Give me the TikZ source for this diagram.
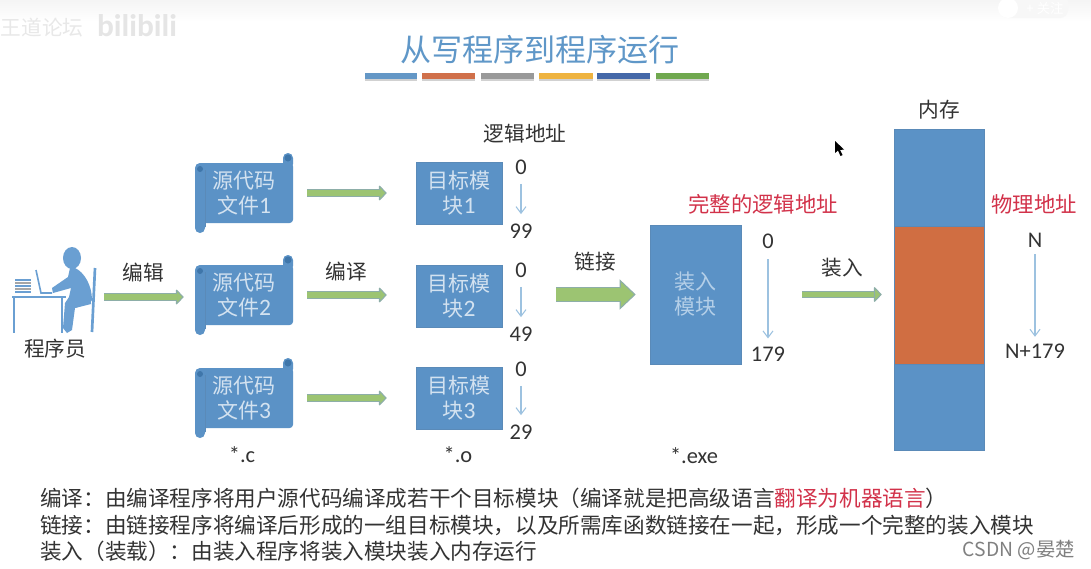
\documentclass[tikz,border=0pt]{standalone}
\usepackage{fontspec}
\setmainfont{Noto Sans CJK SC}
\newfontfamily\lat[Scale=1.12]{Carlito}
\usetikzlibrary{arrows.meta}
\definecolor{boxblue}{HTML}{5B92C6}
\definecolor{boxedge}{HTML}{5A8AB8}
\definecolor{rollblue}{HTML}{3F76AA}
\definecolor{personblue}{HTML}{6A9FD2}
\definecolor{paletext}{HTML}{D3E2F0}
\definecolor{dimtext}{HTML}{B4CFE8}
\definecolor{memorange}{HTML}{D06E42}
\definecolor{inkgrey}{HTML}{333333}
\definecolor{redlabel}{HTML}{D2324A}
\definecolor{arrowfill}{HTML}{9CC472}
\definecolor{arrowedge}{HTML}{8DAEA8}
\definecolor{thinarrow}{HTML}{9DC2E0}
\definecolor{titleblue}{HTML}{5F97C8}
\definecolor{barb}{HTML}{6497C6}
\definecolor{barc}{HTML}{D0704A}
\definecolor{bard}{HTML}{999999}
\definecolor{bare}{HTML}{EEB340}
\definecolor{barf}{HTML}{4468A8}
\definecolor{barg}{HTML}{70A84F}
\newcommand{\fs}[2]{\fontsize{#1}{#2}\selectfont}
\tikzset{
  x=0.75pt,y=-0.75pt,
  lab/.style={inner sep=0pt,text=inkgrey,font=\fs{15.5}{18}},
  redlab/.style={inner sep=0pt,text=redlabel,font=\fs{16}{18}},
  num/.style={inner sep=0pt,text=inkgrey,font=\lat\fs{15}{18}},
  boxtext/.style={inner sep=0pt,align=center,text=paletext,font=\fs{15.75}{18.75}},
  solidbox/.style={boxtext,fill=boxblue,draw=boxedge,line width=0.4pt},
  scrollnode/.style={boxtext,minimum width=73.5pt,minimum height=60pt},
  blockarrow/.style={draw=arrowedge,line width=5.6pt,
    -{Triangle[length=6pt,width=12pt,line width=0.8pt,fill=arrowfill,round]},
    postaction={draw=arrowfill,line width=3.8pt,-,shorten >=#1}},
  bigarrow/.style={draw=arrowedge,line width=11.5pt,
    -{Triangle[length=12pt,width=22.5pt,line width=0.8pt,fill=arrowfill]},
    postaction={draw=arrowfill,line width=10pt,-,shorten >=#1}},
  downarrow/.style={draw=thinarrow,line width=0.8pt,-{Straight Barb[length=5pt,width=7.5pt]}},
  barshadow/.style={fill=black!18},
  bottomline/.style={anchor=west,inner sep=0pt,text=inkgrey,font=\fs{16.2}{20}},
}
\newcommand{\scrollbox}[3]{%
  \begin{scope}[shift={(195,#2)}]
    \fill[boxblue,rounded corners=2.5pt] (3,10) rectangle (98,70);
    \fill[boxblue,rounded corners=3.7pt] (88,0) rectangle (98,16);
    \fill[boxblue,rounded corners=3.7pt] (0,10) rectangle (10,80);
    \draw[boxedge,line width=0.5pt] (10,17) -- (10,74);
    \fill[rollblue] (93,5) circle[radius=3.5];
    \fill[rollblue] (5,16) circle[radius=3];
    \node[scrollnode] (#1) at (49,40) {#3};
  \end{scope}}
\newcommand{\colorbar}[3]{%
  \fill[barshadow] (#1,75) rectangle (#2,81);
  \fill[#3] (#1,73) rectangle (#2,79);}
\begin{document}
\begin{tikzpicture}
\useasboundingbox (0,0) rectangle (1091,568);
\fill[white] (0,0) rectangle (1091,568);
\shade[top color=black!4,bottom color=white] (0,0) rectangle (1091,22);
% watermarks
\node[inner sep=0pt,text=black!9,font=\fs{15.5}{18}] (wmtext) at (42,28) {王道论坛};
\node[inner sep=0pt,text=black!10,font=\bfseries\fs{21}{24}] (wmlogo) at (137,26) {\lat bilibili};
\fill[black!3,rounded corners=6pt] (1000,-6) rectangle (1068,18);
\fill[white] (1008,8) circle[radius=10];
\node[inner sep=0pt,text=white,font=\fs{10}{12}] (wmfollow) at (1045,8) {+ 关注};
% title
\node[inner sep=0pt,text=titleblue,font=\fs{23.3}{28}] (title) at (540,50) {从写程序到程序运行};
\colorbar{365}{417}{barb}
\colorbar{422}{475}{barc}
\colorbar{481}{534}{bard}
\colorbar{539}{593}{bare}
\colorbar{597}{650}{barf}
\colorbar{656}{709}{barg}
% programmer
\node[inner sep=0pt,minimum width=63.75pt,minimum height=57pt] (person) at (54.5,297) {};
\begin{scope}[personblue]
  \fill (72,258) ellipse[x radius=9,y radius=11];
  \fill (70,268) -- (75,268) .. controls (84,272) and (92,285) .. (92,300) -- (90,303) -- (75,308) -- (72,330) -- (67,333) -- (63,328) -- (65,303) -- (69,297) -- (71,288) -- (53,293) -- (52,288) -- (68,277) -- cycle;
  \draw[line width=1.8pt] (12,297) -- (66,297);
  \draw[line width=1.8pt] (14,297) -- (14,333) (62,297) -- (62,333);
  \draw[line width=2pt] (95,268) -- (92,332);
  \draw[line width=1.5pt] (75,307) -- (91,303);
  \draw[line width=1.2pt] (36,270) -- (41,293) -- (52,293);
  \foreach \yy/\cc in {280/personblue,283/black!35,286/personblue,289/black!35,292/personblue} \draw[line width=1.3pt,\cc] (15,\yy) -- (31,\yy);
\end{scope}
\node[lab] (programmer) at (55,349) {程序员};
% source scrolls
\scrollbox{srca}{153}{源代码\\文件{\lat 1}}
\scrollbox{srcb}{255}{源代码\\文件{\lat 2}}
\scrollbox{srcc}{358}{源代码\\文件{\lat 3}}
% target modules
\node[solidbox,minimum width=64.5pt,minimum height=46.5pt] (tgta) at (459,193) {目标模\\块{\lat 1}};
\node[solidbox,minimum width=64.5pt,minimum height=46.5pt] (tgtb) at (459,296) {目标模\\块{\lat 2}};
\node[solidbox,minimum width=64.5pt,minimum height=46.5pt] (tgtc) at (459,398.5) {目标模\\块{\lat 3}};
% load module
\node[solidbox,text=dimtext,minimum width=68.25pt,minimum height=104.25pt] (load) at (695.5,294.5) {装入\\模块};
% memory
\node[draw=boxedge,fill=boxblue,line width=0.4pt,inner sep=0pt,minimum width=67.5pt,minimum height=72.75pt] (memtop) at (939,177.5) {};
\node[draw=boxedge,fill=memorange,line width=0.4pt,inner sep=0pt,minimum width=67.5pt,minimum height=103.5pt] (memmid) at (939,295) {};
\node[draw=boxedge,fill=boxblue,line width=0.4pt,inner sep=0pt,minimum width=67.5pt,minimum height=64.5pt] (membot) at (939,407) {};
% labels
\node[lab] (lblmem) at (939,110) {内存};
\node[lab] (lbllogic) at (525,134) {逻辑地址};
\node[redlab] (lblfull) at (763,204) {完整的逻辑地址};
\node[redlab] (lblphys) at (1034,204) {物理地址};
\node[lab] (lbledit) at (143,273) {编辑};
\node[lab] (lblcomp) at (346,272) {编译};
\node[lab] (lbllink) at (595,262) {链接};
\node[lab] (lblloadin) at (842,268) {装入};
\node[num] (extc) at (242,455) {*.c};
\node[num] (exto) at (458,455) {*.o};
\node[num] (extexe) at (694,456) {*.exe};
% numbers
\node[num] (aa) at (521,167) {0};
\node[num] (ab) at (521,231) {99};
\node[num] (ba) at (521,270) {0};
\node[num] (bb) at (521,334) {49};
\node[num] (ca) at (521,369) {0};
\node[num] (cb) at (521,432) {29};
\node[num] (da) at (768,241) {0};
\node[num] (db) at (768,354) {179};
\node[num] (ea) at (1035,240) {N};
\node[num] (eb) at (1035,351) {N+179};
% thin arrows
\draw[downarrow,shorten <=7pt,shorten >=7pt] (aa) -- (ab);
\draw[downarrow,shorten <=7pt,shorten >=7pt] (ba) -- (bb);
\draw[downarrow,shorten <=7pt,shorten >=7pt] (ca) -- (cb);
\draw[downarrow,shorten <=8pt,shorten >=6pt] (da) -- (db);
\draw[downarrow,shorten <=5pt,shorten >=5pt] (ea) -- (eb);
% block arrows
\draw[blockarrow=13.25pt,shorten <=5.25pt,shorten >=8.25pt] (person.east) -- (person.east -| srcb.west);
\draw[blockarrow=27pt,shorten <=10.5pt,shorten >=21.75pt] (srca.east) -- (srca.east -| tgta.west);
\draw[blockarrow=27pt,shorten <=10.5pt,shorten >=21.75pt] (srcb.east) -- (srcb.east -| tgtb.west);
\draw[blockarrow=27pt,shorten <=10.5pt,shorten >=21.75pt] (srcc.east) -- (srcc.east -| tgtc.west);
\draw[bigarrow=21pt,shorten <=40.5pt,shorten >=10.5pt] (tgtb.east |- load.west) -- (load.west);
\draw[blockarrow=14.5pt,shorten <=45.75pt,shorten >=9pt] (load.east) -- (load.east -| memmid.west);
% cursor
\fill[black] (835,141) -- (835,153) -- (838,150.5) -- (840.5,156) -- (842.5,155) -- (840,150) -- (844,149.5) -- cycle;
% bottom text
\node[bottomline] (linea) at (40,498) {编译：由编译程序将用户源代码编译成若干个目标模块（编译就是把高级语言{\color{redlabel}翻译为机器语言}）};
\node[bottomline] (lineb) at (40,525) {链接：由链接程序将编译后形成的一组目标模块，以及所需库函数链接在一起，形成一个完整的装入模块};
\node[bottomline] (linec) at (40,551) {装入（装载）：由装入程序将装入模块装入内存运行};
\node[anchor=east,inner sep=0pt,text=black!50,font=\fs{14.5}{16}] (csdn) at (1075,550) {CSDN @晏楚};
\end{tikzpicture}
\end{document}
